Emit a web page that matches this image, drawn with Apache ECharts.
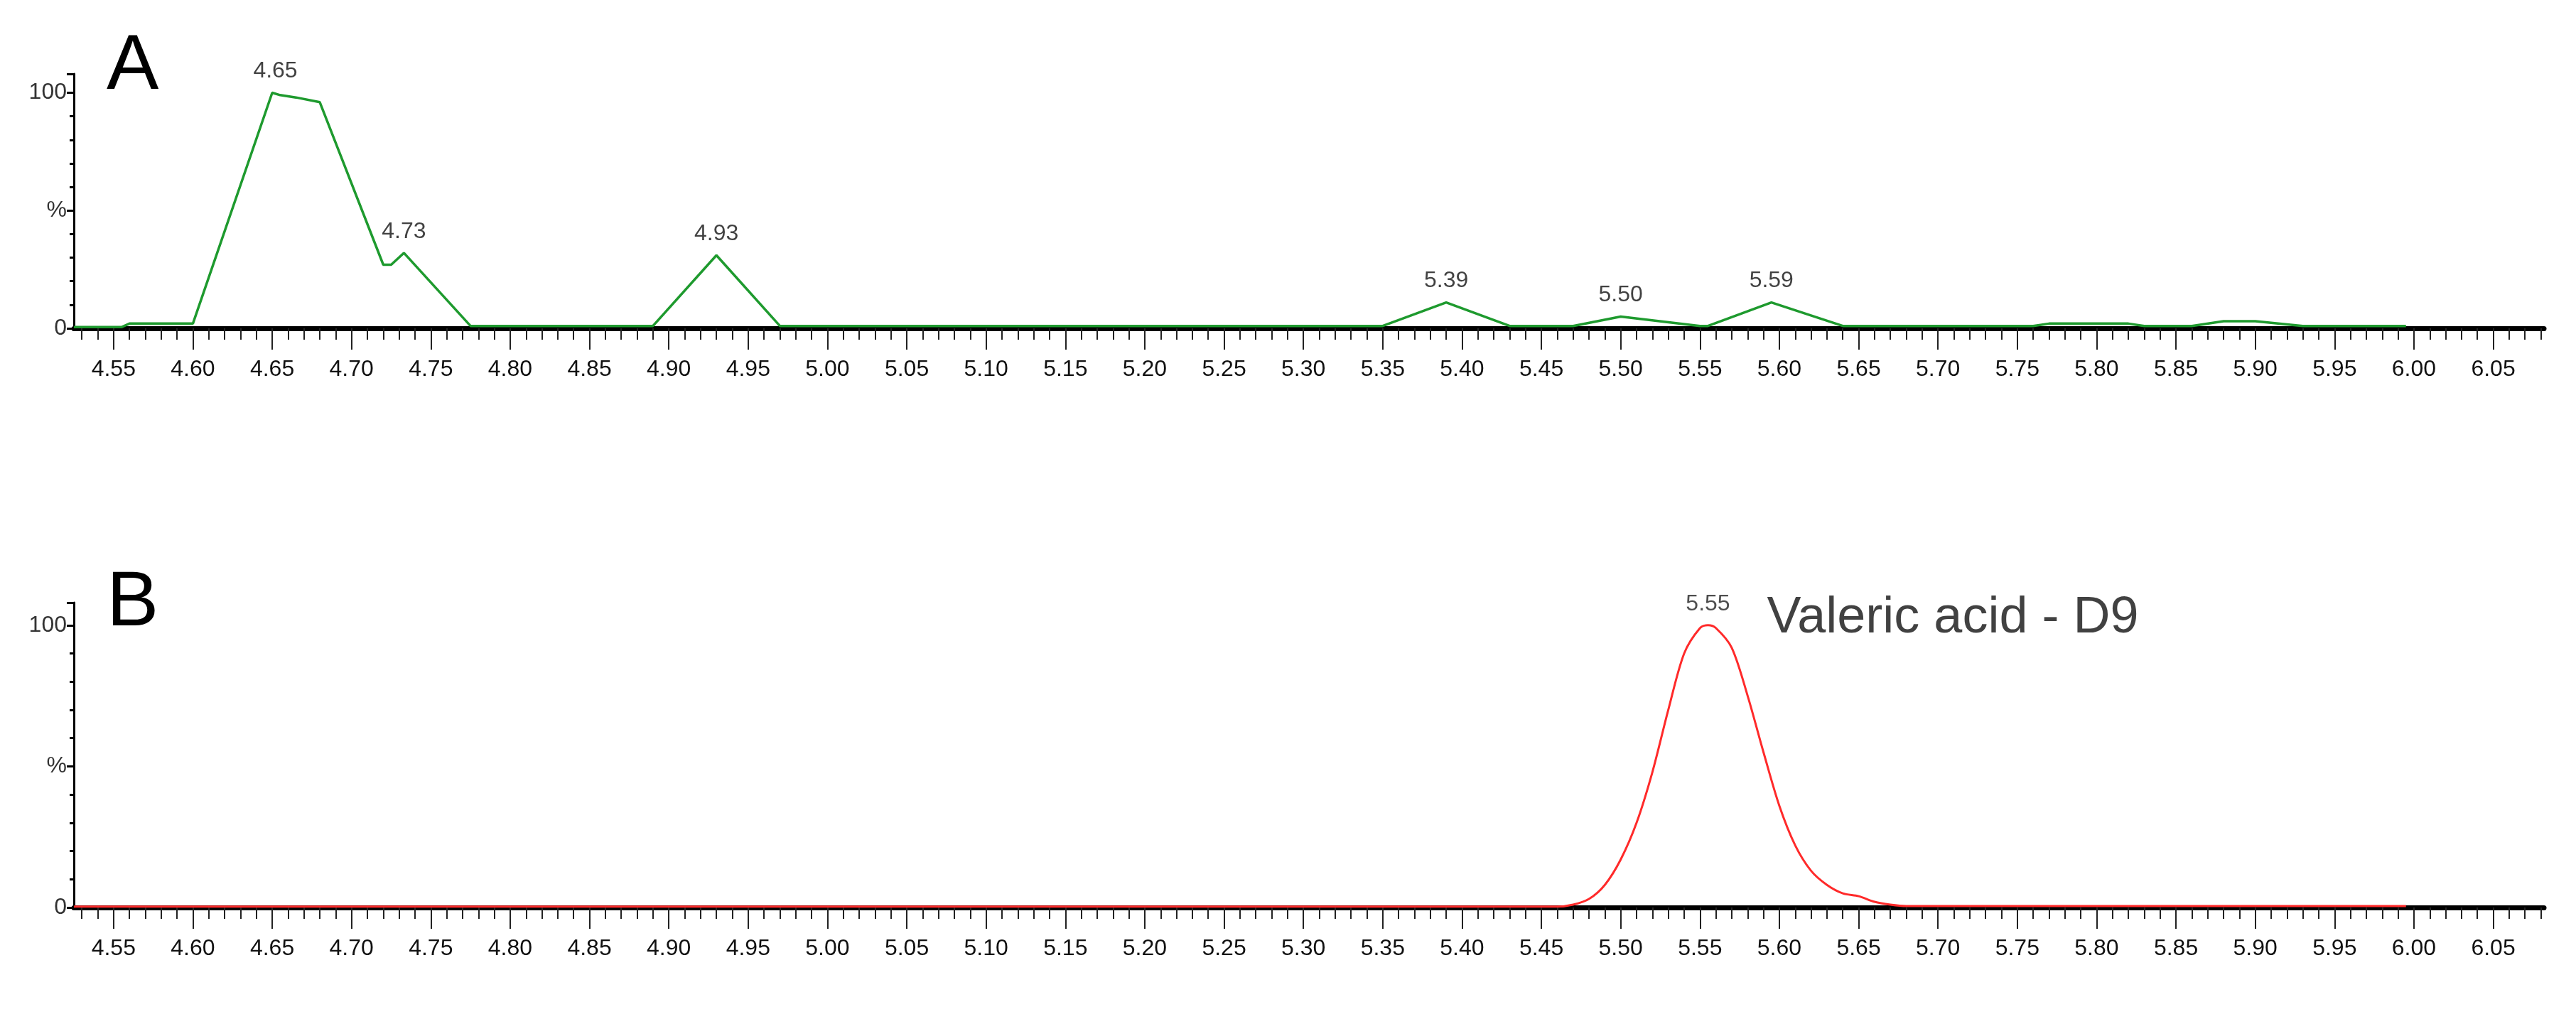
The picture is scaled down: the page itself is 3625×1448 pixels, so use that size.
<!DOCTYPE html>
<html><head><meta charset="utf-8">
<script src="https://cdn.jsdelivr.net/npm/echarts@6/dist/echarts.min.js"></script>
<style>html,body{margin:0;background:#fff}#c{width:3625px;height:1448px}</style>
</head><body><div id="c"></div>
<script>
const timeA = [4.525,4.555,4.56,4.60,4.65,4.655,4.665,4.68,4.72,4.725,4.733,4.775,4.89,4.93,4.97,5.35,5.39,5.43,5.47,5.50,5.55,5.555,5.595,5.64,5.76,5.77,5.82,5.83,5.86,5.88,5.90,5.93,5.995];
const valA  = [0.5,0.5,2,2,100,99,98,96,27,27,32,1,1,31,1,1,11,1,1,5,1,1,11,1,1,2,2,1,1,3,3,1,1];
const peaksA = [4.65,4.73,4.93,5.39,5.50,5.59];
const peakTimeA = [4.652,4.733,4.93,5.39,5.50,5.595];
const peakValA = [100,32,31,11,5,11];
const timeB = [4.525,5.46,5.47,5.48,5.49,5.50,5.51,5.52,5.53,5.54,5.55,5.555,5.56,5.57,5.58,5.59,5.60,5.61,5.62,5.63,5.64,5.65,5.66,5.67,5.68,5.995];
const valB  = [0.3,0.3,1,3,8,17,30,48,70,90,99,100,99,92,75,55,36,22,13,8,5,4,2,1,0.5,0.5];
const peaksB = [5.55];
const peakTimeB = [5.555];
const peakValB = [100];
const compoundB = 'Valeric acid - D9';
const tickLabels = ['4.55','4.60','4.65','4.70','4.75','4.80','4.85','4.90','4.95','5.00','5.05','5.10','5.15','5.20','5.25','5.30','5.35','5.40','5.45','5.50','5.55','5.60','5.65','5.70','5.75','5.80','5.85','5.90','5.95','6.00','6.05'];

const font = 'Liberation Sans Narrow, Liberation Sans, sans-serif';
const XMIN = 4.525, XMAX = 6.082;
const majors = tickLabels.map(Number);
const minors = [];
for (let k = 453; k <= 608; k++) { const v = k/100; if (k % 5 !== 0) minors.push(v); }
function xAx(i){return {type:'value',gridIndex:i,min:XMIN,max:XMAX,
  axisLine:{show:true,lineStyle:{color:'#000',width:7}},
  axisTick:{show:true,customValues:majors,length:30,lineStyle:{color:'#222',width:2}},
  splitLine:{show:false},
  axisLabel:{customValues:majors,color:'#111',fontSize:32,fontFamily:font,margin:42,formatter:v=>v.toFixed(2)}};}
function xMinor(i){return {type:'value',gridIndex:i,min:XMIN,max:XMAX,position:'bottom',
  axisLine:{show:false},
  axisTick:{show:true,customValues:minors,length:16,lineStyle:{color:'#222',width:2}},
  axisLabel:{show:false},splitLine:{show:false}};}
function yAx(i){return {type:'value',gridIndex:i,min:0,max:108,interval:50,
  axisLine:{show:true,lineStyle:{color:'#000',width:3}},
  axisTick:{show:true,length:10,lineStyle:{color:'#000',width:3}},
  minorTick:{show:true,splitNumber:5,length:6,lineStyle:{color:'#000',width:3}},
  splitLine:{show:false},
  axisLabel:{color:'#333',fontSize:32,fontFamily:font,margin:10,
    formatter:v=>v===0?'0':v===100?'100':v===50?'%':''}};}
const zip=(a,b)=>a.map((x,i)=>[x,b[i]]);
const chart = echarts.init(document.getElementById('c'));
chart.setOption({
  animation:false,
  grid:[{left:104,right:45,top:104,height:358},{left:104,right:45,top:848,height:429}],
  xAxis:[xAx(0),xAx(1),xMinor(0),xMinor(1)], yAxis:[yAx(0),yAx(1)],
  graphic:[
    {type:'text',left:150,top:40,style:{text:'A',fontSize:110,fontFamily:'Liberation Sans',fill:'#000'}},
    {type:'text',left:150,top:795,style:{text:'B',fontSize:110,fontFamily:'Liberation Sans',fill:'#000'}}
  ],
  series:[
    {type:'line',xAxisIndex:0,yAxisIndex:0,data:zip(timeA,valA),symbol:'none',lineStyle:{color:'#1e9a2e',width:3.5},z:3},
    {type:'scatter',xAxisIndex:0,yAxisIndex:0,symbolSize:0,
      data:peakTimeA.map((t,i)=>({value:[t,peakValA[i]],label:{formatter:peaksA[i].toFixed(2)}})),
      label:{show:true,position:'top',distance:14,fontSize:32,fontFamily:font,color:'#111'}},
    {type:'line',xAxisIndex:1,yAxisIndex:1,data:zip(timeB,valB),symbol:'none',smooth:0.3,lineStyle:{color:'#ff2a2a',width:3},z:3},
    {type:'scatter',xAxisIndex:1,yAxisIndex:1,symbolSize:0,
      data:peakTimeB.map((t,i)=>({value:[t,peakValB[i]],label:{formatter:peaksB[i].toFixed(2)}})),
      label:{show:true,position:'top',distance:14,fontSize:32,fontFamily:font,color:'#222'}},
    {type:'scatter',xAxisIndex:1,yAxisIndex:1,symbolSize:0,
      data:[{value:[5.59,100],label:{formatter:compoundB}}],
      label:{show:true,position:'right',offset:[0,-10],fontSize:72,fontFamily:font,color:'#111'}}
  ]
});
</script></body></html>
